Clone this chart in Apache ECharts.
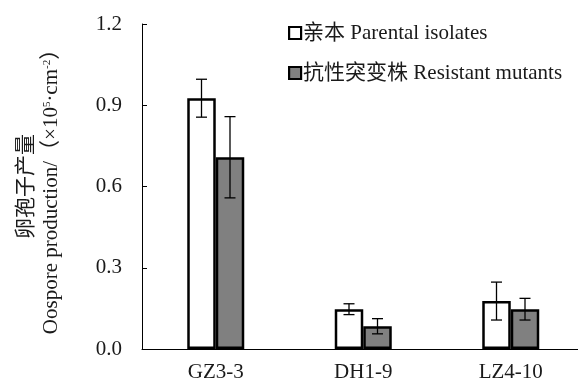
<!DOCTYPE html>
<html>
<head>
<meta charset="utf-8">
<script src="https://cdn.jsdelivr.net/npm/echarts@6/dist/echarts.min.js"></script>
<style>html,body{margin:0;padding:0;background:#fff}#c{width:578px;height:382px}</style>
</head>
<body>
<div id="c"></div>
<script>
var categories = ['GZ3-3', 'DH1-9', 'LZ4-10'];
var seriesNames = ['亲本 Parental isolates', '抗性突变株 Resistant mutants'];
var parental = [0.926, 0.147, 0.177];
var parentalErr = [0.07, 0.02, 0.07];
var resistant = [0.708, 0.084, 0.147];
var resistantErr = [0.15, 0.028, 0.04];
var yTicks = [0, 0.3, 0.6, 0.9, 1.2];

var FONT = '"Liberation Serif", "Times New Roman", "Noto Sans CJK SC", serif';
var TXT = '#1a1a1a';
var BAR_W = 28.5;

function errSeries(vals, errs, offset) {
  var data = vals.map(function (v, i) { return [i, v - errs[i], v + errs[i]]; });
  return {
    type: 'custom',
    data: data,
    z: 10,
    silent: true,
    renderItem: function (params, api) {
      var lo = api.coord([api.value(0), api.value(1)]);
      var hi = api.coord([api.value(0), api.value(2)]);
      var x = lo[0] + offset;
      var cap = 5.5;
      var st = { stroke: '#000', lineWidth: 1.3 };
      return {
        type: 'group',
        children: [
          { type: 'line', shape: { x1: x, y1: lo[1], x2: x, y2: hi[1] }, style: st },
          { type: 'line', shape: { x1: x - cap, y1: lo[1], x2: x + cap, y2: lo[1] }, style: st },
          { type: 'line', shape: { x1: x - cap, y1: hi[1], x2: x + cap, y2: hi[1] }, style: st }
        ]
      };
    }
  };
}

var chart = echarts.init(document.getElementById('c'), null, { renderer: 'canvas' });
chart.setOption({
  animation: false,
  backgroundColor: '#fff',
  textStyle: { fontFamily: FONT, color: TXT },
  grid: { left: 142, right: -6.5, top: 24, bottom: 33, containLabel: false, outerBoundsMode: 'none' },
  legend: {
    orient: 'vertical',
    left: 288,
    top: 22.5,
    padding: 0,
    itemGap: 19,
    itemWidth: 12,
    itemHeight: 12,
    icon: 'rect',
    data: seriesNames,
    textStyle: { fontFamily: FONT, fontSize: 21, color: TXT, padding: [0, 0, 0, -3] },
    itemStyle: { borderColor: '#000', borderWidth: 2.2 }
  },
  xAxis: {
    type: 'category',
    data: categories,
    boundaryGap: true,
    axisLine: { lineStyle: { color: '#000', width: 1 } },
    axisTick: { inside: true, length: 4, lineStyle: { color: '#000' } },
    axisLabel: { fontFamily: FONT, fontSize: 21, color: TXT, margin: 13 }
  },
  yAxis: {
    type: 'value',
    min: 0,
    max: 1.2,
    interval: 0.3,
    splitLine: { show: false },
    axisLine: { show: true, lineStyle: { color: '#000', width: 1 } },
    axisTick: { show: true, inside: true, length: 5, lineStyle: { color: '#000' } },
    axisLabel: {
      fontFamily: FONT, fontSize: 21, color: TXT, margin: 20,
      formatter: function (v) { return v.toFixed(1); }
    },
    name: '{cn|卵孢子产量}\n{en|Oospore production/（×10}{sup|5}{en|·cm}{sup|-2}{en|）}',
    nameLocation: 'middle',
    nameGap: 77,
    nameTextStyle: {
      color: TXT,
      rich: {
        cn: { fontFamily: '"Noto Sans CJK SC", serif', fontSize: 21, color: TXT, lineHeight: 27 },
        en: { fontFamily: FONT, fontSize: 21, color: TXT, lineHeight: 27 },
        sup: { fontFamily: FONT, fontSize: 11, color: TXT, lineHeight: 27, verticalAlign: 'top', padding: [4, 0, 0, 0] }
      }
    }
  },
  series: [
    {
      name: seriesNames[0], type: 'bar', data: parental, barWidth: BAR_W, barGap: '0%',
      itemStyle: { color: '#fff', borderColor: '#000', borderWidth: 2.5 }
    },
    {
      name: seriesNames[1], type: 'bar', data: resistant, barWidth: BAR_W, barGap: '0%',
      itemStyle: { color: '#808080', borderColor: '#000', borderWidth: 2.5 }
    },
    errSeries(parental, parentalErr, -BAR_W / 2),
    errSeries(resistant, resistantErr, BAR_W / 2)
  ]
});
</script>
</body>
</html>
